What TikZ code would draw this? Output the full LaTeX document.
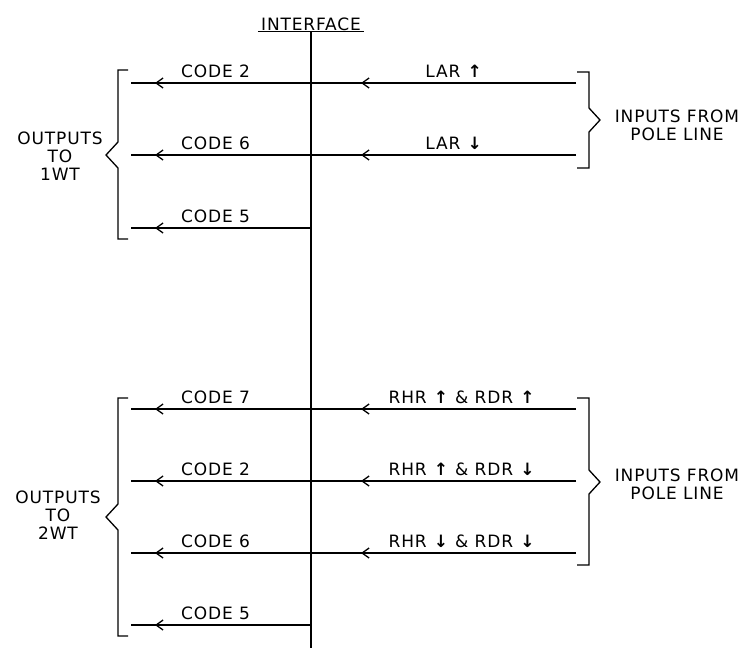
\documentclass[tikz,border=0pt]{standalone}
\usepackage{fontspec}
\setmainfont[LetterSpace=5]{DejaVu Sans}
\usetikzlibrary{arrows.meta,decorations.markings}

\begin{document}
\begin{tikzpicture}[
  x=1pt, y=-1pt,
  font=\fontsize{17}{18}\selectfont,
  wire/.style={line width=1.3pt},
  flow/.style={wire, postaction={decorate}, decoration={markings,
    mark=at position #1 with {\arrow{Straight Barb[length=7pt,width=10pt,line width=1.3pt]}}}},
  lbl/.style={inner sep=1pt, anchor=base},
  bracket/.style={line width=1.3pt},
  group/.style={align=center, inner sep=0pt, font=\fontsize{17}{18}\selectfont},
]
\useasboundingbox (0,0) rectangle (752,656);

\node[lbl, anchor=base] (iface) at (311,30) {INTERFACE};
\draw[wire] ([xshift=-2pt]iface.south west) -- ([xshift=2pt]iface.south east);
\coordinate (bot) at (311,648);
\draw[wire] (iface.south) -- (bot);

\coordinate (if1) at (311,83);
\coordinate (if2) at (311,155);
\coordinate (if3) at (311,228);
\coordinate (if4) at (311,409);
\coordinate (if5) at (311,481);
\coordinate (if6) at (311,553);
\coordinate (if7) at (311,625);

\coordinate (out1) at (131,83);
\coordinate (out2) at (131,155);
\coordinate (out3) at (131,228);
\coordinate (out4) at (131,409);
\coordinate (out5) at (131,481);
\coordinate (out6) at (131,553);
\coordinate (out7) at (131,625);

\coordinate (in1) at (576,83);
\coordinate (in2) at (576,155);
\coordinate (in4) at (576,409);
\coordinate (in5) at (576,481);
\coordinate (in6) at (576,553);

\draw[flow=-24pt] (if1) -- (out1);
\draw[flow=-24pt] (if2) -- (out2);
\draw[flow=-24pt] (if3) -- (out3);
\draw[flow=-24pt] (if4) -- (out4);
\draw[flow=-24pt] (if5) -- (out5);
\draw[flow=-24pt] (if6) -- (out6);
\draw[flow=-24pt] (if7) -- (out7);

\draw[flow=-50pt] (in1) -- (if1);
\draw[flow=-50pt] (in2) -- (if2);
\draw[flow=-50pt] (in4) -- (if4);
\draw[flow=-50pt] (in5) -- (if5);
\draw[flow=-50pt] (in6) -- (if6);

\node[lbl, anchor=base west] (code1) at (180,77) {CODE 2};
\node[lbl, anchor=base west] (code2) at (180,149) {CODE 6};
\node[lbl, anchor=base west] (code3) at (180,222) {CODE 5};
\node[lbl, anchor=base west] (code4) at (180,403) {CODE 7};
\node[lbl, anchor=base west] (code5) at (180,475) {CODE 2};
\node[lbl, anchor=base west] (code6) at (180,547) {CODE 6};
\node[lbl, anchor=base west] (code7) at (180,619) {CODE 5};

\node[lbl] (lar1) at (454,77) {LAR \textbf{↑}};
\node[lbl] (lar2) at (454,149) {LAR \textbf{↓}};
\node[lbl] (rr1) at (462,403) {RHR \textbf{↑} \& RDR \textbf{↑}};
\node[lbl] (rr2) at (462,475) {RHR \textbf{↑} \& RDR \textbf{↓}};
\node[lbl] (rr3) at (462,547) {RHR \textbf{↓} \& RDR \textbf{↓}};

\draw[bracket] (128,70) -- (118,70) -- (118,142) -- (106,155) -- (118,168) -- (118,239) -- (128,239);
\draw[bracket] (128,398) -- (118,398) -- (118,504) -- (106,517) -- (118,530) -- (118,636) -- (128,636);
\draw[bracket] (577,72) -- (589,72) -- (589,108) -- (600,120) -- (589,132) -- (589,168) -- (577,168);
\draw[bracket] (577,398) -- (589,398) -- (589,470) -- (600,482) -- (589,494) -- (589,565) -- (577,565);

\node[group] (wt1) at (60,156) {OUTPUTS\\TO\\1WT};
\node[group] (wt2) at (58,515) {OUTPUTS\\TO\\2WT};
\node[group] (pole1) at (677,125) {INPUTS FROM\\POLE LINE};
\node[group] (pole2) at (677,484) {INPUTS FROM\\POLE LINE};
\end{tikzpicture}
\end{document}
